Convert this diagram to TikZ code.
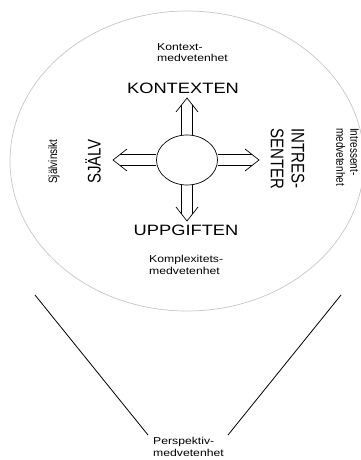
\documentclass[tikz,border=0pt]{standalone}
\usepackage{fontspec}
\setmainfont{Liberation Sans}
\usetikzlibrary{shapes.geometric,calc}

\tikzset{
  capslabel/.style={font=\fontsize{15}{17}\selectfont, inner sep=0pt, xscale=1.22},
  smalllabel/.style={font=\fontsize{10}{11.6}\selectfont, inner sep=0pt, align=left, xscale=1.22},
  hollowarrow/.style={line width=0.7pt, line join=miter},
}

\begin{document}
\begin{tikzpicture}[x=1pt, y=-1pt]
    \useasboundingbox (0,0) rectangle (361,460);

    % Outer field
    \draw[gray!45, line width=0.7pt] (187,161) ellipse[x radius=177, y radius=150];

    % Hub and the four directions
    \node[draw, ellipse, line width=0.7pt, minimum width=61pt, minimum height=50pt] (hub) at (187,160) {};
    \coordinate (uptip) at (187,98);
    \coordinate (downtip) at (187,221);
    \coordinate (lefttip) at (113,160);
    \coordinate (righttip) at (259,160);
    \foreach \side/\tip/\dx/\dy in {north/uptip/0/-1, south/downtip/0/1, west/lefttip/-1/0, east/righttip/1/0}{
      \draw[hollowarrow] ($(\tip)-14*(\dx,\dy)+11*(\dy,\dx)$) -- (\tip) -- ($(\tip)-14*(\dx,\dy)-11*(\dy,\dx)$);
      \draw[hollowarrow] ($(hub.\side)+5.5*(\dy,\dx)$) -- ($(\tip)-7*(\dx,\dy)+5.5*(\dy,\dx)$);
      \draw[hollowarrow] ($(hub.\side)-5.5*(\dy,\dx)$) -- ($(\tip)-7*(\dx,\dy)-5.5*(\dy,\dx)$);
    }

    % Big labels
    \node[capslabel] (kontexten) at (183,88.5) {KONTEXTEN};
    \node[capslabel] (uppgiften) at (186,230.5) {UPPGIFTEN};
    \node[capslabel, rotate=90] (sjalv) at (93,161.5) {SJÄLV};
    \node[capslabel, rotate=-90, anchor=west, align=left] (intresse) at (287.5,128) {INTRES-\\SENTER};

    % Awareness labels
    \node[smalllabel, anchor=north west] (kontextmv) at (157,43) {Kontext-\\medvetenhet};
    \node[smalllabel, anchor=north west] (komplexmv) at (149,255) {Komplexitets-\\medvetenhet};
    \node[smalllabel, rotate=90] (insikt) at (54,161.5) {Självinsikt};
    \node[smalllabel, rotate=-90, anchor=west] (intressemv) at (347.5,128) {Intressent-\\medvetenhet};
    \node[smalllabel, anchor=north west] (perspektiv) at (153,437.5) {Perspektiv-\\medvetenhet};

    % Perspective funnel
    \coordinate (leftrim) at (35,295);
    \coordinate (rightrim) at (341,295);
    \coordinate (leftfoot) at (148,435);
    \coordinate (rightfoot) at (228,435);
    \draw[line width=0.8pt] (leftrim) -- (leftfoot);
    \draw[line width=0.8pt] (rightrim) -- (rightfoot);
\end{tikzpicture}
\end{document}
